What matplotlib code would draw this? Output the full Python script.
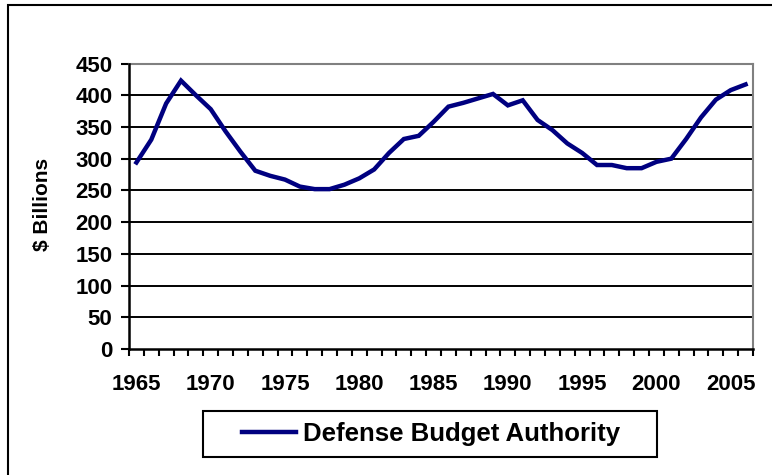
import matplotlib
matplotlib.use("Agg")
import matplotlib.pyplot as plt
from matplotlib.patches import Rectangle
import numpy as np

plt.rcParams['font.family'] = ['Liberation Sans', 'DejaVu Sans']
plt.rcParams['font.weight'] = 'bold'

years = list(range(1965, 2007))
budget = [294, 330, 387, 423, 400, 378, 343, 311, 281, 273, 267, 256, 252, 252,
          259, 269, 283, 309, 331, 336, 358, 382, 388, 395, 402, 384, 392, 361,
          345, 324, 309, 290, 290, 285, 285, 295, 300, 331, 365, 393, 408, 417]
yticks = list(range(0, 451, 50))
series_name = "Defense Budget Authority"

fig = plt.figure(figsize=(7.72, 4.75), dpi=100)

# outer frame (only left/top edges show in the original)
fig.patches.append(Rectangle((8/772, -0.1), 1.2, 1 - 5/475 + 0.1,
                             transform=fig.transFigure, fill=False,
                             edgecolor='black', linewidth=1.5))

ax = fig.add_axes([129/772, 1 - 349/475, 624/772, 285.5/475])
x = np.arange(len(years))
ax.plot(x, budget, color='#000080', linewidth=3.2, label=series_name,
        solid_joinstyle='miter', zorder=3)

ax.set_xlim(-0.5, len(years) - 0.5)
ax.set_ylim(0, 450)
ax.set_yticks(yticks)
ax.set_yticklabels([str(v) for v in yticks])
for v in yticks[1:]:
    ax.axhline(v, color='black' if v < 450 else '#808080', linewidth=1.4, zorder=1)

lab_pos = [i for i, y in enumerate(years) if y % 5 == 0]
ax.set_xticks(lab_pos)
ax.set_xticklabels([str(years[i]) for i in lab_pos])
ax.set_xticks(np.arange(-0.5, len(years)), minor=True)
ax.tick_params(axis='x', which='major', length=0, pad=18, labelsize=16)
ax.tick_params(axis='x', which='minor', length=5, width=1.5, direction='out')
ax.tick_params(axis='y', length=6, width=1.5, pad=6, labelsize=16)

for s in ['left', 'bottom']:
    ax.spines[s].set_color('black')
    ax.spines[s].set_linewidth(1.8)
for s in ['right', 'top']:
    ax.spines[s].set_color('#808080')
    ax.spines[s].set_linewidth(1.5)
ax.spines['left'].set_zorder(4)
ax.spines['bottom'].set_zorder(4)

fig.text(43/772, 1 - 204/475, "$ Billions", rotation=90, fontsize=15,
         fontweight='bold', ha='center', va='center')

# legend: handle + text, with Excel-style box drawn around it
leg = fig.legend(loc='center', bbox_to_anchor=(431/772, 1 - 434/475),
                 fontsize=18.5, frameon=False, handlelength=2.1,
                 handletextpad=0.25, borderpad=0, borderaxespad=0)
for line in leg.get_lines():
    line.set_linewidth(3.2)
for t in leg.get_texts():
    t.set_fontweight('bold')
fig.patches.append(Rectangle((203/772, 1 - 457/475), 454/772, 46/475,
                             transform=fig.transFigure, fill=False,
                             edgecolor='black', linewidth=1.5))

fig.savefig("out.png", dpi=100)
